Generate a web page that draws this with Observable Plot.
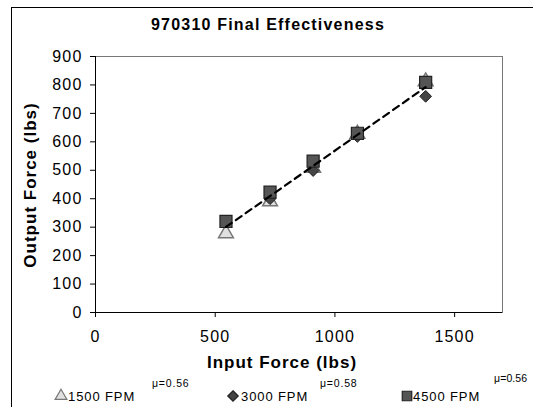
<!DOCTYPE html>
<html>
<head>
<meta charset="utf-8">
<script src="https://cdn.jsdelivr.net/npm/d3@7"></script>
<script src="https://cdn.jsdelivr.net/npm/@observablehq/plot@0.6"></script>
<style>
  html, body { margin: 0; padding: 0; background: #fff; overflow: hidden; }
  #wrap { position: relative; width: 533px; height: 407px; overflow: hidden; }
  #border { position: absolute; left: 11px; top: 7px; width: 700px; height: 600px; border: 1px solid #000; }
  #chart { position: absolute; left: 0; top: 0; }
  #chart svg g[aria-label$="tick label"] text { letter-spacing: 1.2px; }
</style>
</head>
<body>
<div id="wrap">
  <div id="border"></div>
  <div id="chart"></div>
</div>
<script>
const title = "970310 Final Effectiveness";
const xLabel = "Input Force (lbs)";
const yLabel = "Output Force (lbs)";
const inputForce = [545, 729, 909, 1094, 1379];
const fpm1500 = [278, 390, 508, 628, 812];
const fpm3000 = [318, 400, 499, 619, 760];
const fpm4500 = [320, 423, 532, 630, 809];
const seriesNames = ["1500 FPM", "3000 FPM", "4500 FPM"];
const muLabels = ["\u03bc=0.56", "\u03bc=0.58", "\u03bc=0.56"];
const xTicks = [0, 500, 1000, 1500];
const yTicks = [0, 100, 200, 300, 400, 500, 600, 700, 800, 900];

const mk = (ys) => inputForce.map((x, i) => ({x, y: ys[i]}));
const d1 = mk(fpm1500), d2 = mk(fpm3000), d3s = mk(fpm4500);
const all = [...d1, ...d2, ...d3s];

const chart = Plot.plot({
  width: 533, height: 407,
  marginLeft: 95, marginRight: 31, marginTop: 56, marginBottom: 95,
  x: {domain: [0, 1700]},
  y: {domain: [0, 900]},
  style: {fontFamily: "'Liberation Sans', Arial, sans-serif", fontSize: "16px", background: "transparent", color: "#000", overflow: "visible"},
  marks: [
    Plot.frame({stroke: "#777"}),
    Plot.axisX(xTicks, {tickSize: 5, tickPadding: 13, label: null, stroke: "#000", tickFormat: d => String(d)}),
    Plot.axisY(yTicks, {tickSize: 5, tickPadding: 8, label: null, stroke: "#000", tickFormat: d => String(d)}),
    Plot.ruleX([0], {stroke: "#000"}),
    Plot.ruleY([0], {stroke: "#000"}),
    Plot.dot(d1, {x: "x", y: "y", symbol: "triangle", r: 5.5, fill: "#e0e0e0", stroke: "#777", strokeWidth: 1.5}),
    Plot.dot(d2, {x: "x", y: "y", symbol: "diamond2", r: 5.3, fill: "#444", stroke: "#222", strokeWidth: 1}),
    Plot.dot(d3s, {x: "x", y: "y", symbol: "square", r: 6.8, fill: "#555", stroke: "#222", strokeWidth: 1.2}),
    Plot.linearRegressionY(all, {x: "x", y: "y", ci: 0, stroke: "#000", strokeWidth: 2.2, strokeDasharray: "7,5"})
  ]
});
document.getElementById("chart").appendChild(chart);

const svg = d3.select(chart);
const ff = "'Liberation Sans', Arial, sans-serif";
svg.append("text").attr("x", 268).attr("y", 30).attr("text-anchor", "middle")
  .attr("font-family", ff).attr("font-size", 16).attr("font-weight", "bold").style("letter-spacing", "1.2px").text(title);
svg.append("text").attr("x", 282).attr("y", 368).attr("text-anchor", "middle")
  .attr("font-family", ff).attr("font-size", 17).attr("font-weight", "bold").style("letter-spacing", "1px").text(xLabel);
svg.append("text").attr("transform", "translate(36,185) rotate(-90)").attr("text-anchor", "middle")
  .attr("font-family", ff).attr("font-size", 17).attr("font-weight", "bold").style("letter-spacing", "1px").text(yLabel);

// legend
const leg = [
  {sym: d3.symbolTriangle, size: 60, fill: "#e0e0e0", stroke: "#777", cx: 61, tx: 68, mux: 152, muy: 387},
  {sym: d3.symbolDiamond2, size: 70, fill: "#444", stroke: "#222", cx: 233, tx: 241, mux: 320, muy: 387},
  {sym: d3.symbolSquare, size: 90, fill: "#555", stroke: "#222", cx: 407, tx: 413, mux: 494, muy: 382}
];
leg.forEach((l, i) => {
  svg.append("path").attr("d", d3.symbol(l.sym, l.size)()).attr("transform", `translate(${l.cx},396)`)
    .attr("fill", l.fill).attr("stroke", l.stroke).attr("stroke-width", 1.2);
  svg.append("text").attr("x", l.tx).attr("y", 401).attr("text-anchor", "start").attr("font-family", ff).attr("font-size", 13)
    .style("letter-spacing", "0.9px").text(seriesNames[i]);
  svg.append("text").attr("x", l.mux).attr("y", l.muy).attr("text-anchor", "start").attr("font-family", ff).attr("font-size", 10.5)
    .style("letter-spacing", i === 2 ? "0.1px" : "0.8px").text(muLabels[i]);
});
</script>
</body>
</html>
